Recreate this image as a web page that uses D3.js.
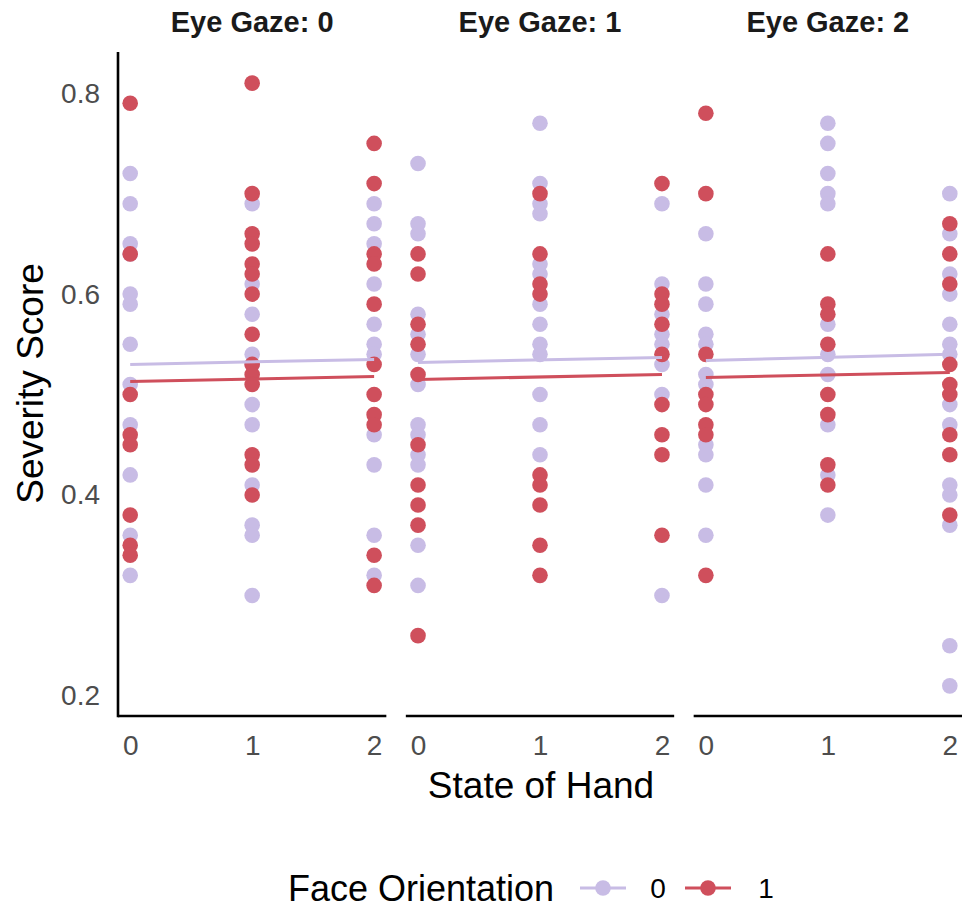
<!DOCTYPE html>
<html>
<head>
<meta charset="utf-8">
<script src="https://cdn.jsdelivr.net/npm/d3@7"></script>
<style>
  html, body { margin: 0; padding: 0; background: #ffffff; }
  svg { display: block; font-family: "Liberation Sans", Arial, sans-serif; }
</style>
</head>
<body>
<svg id="chart" width="963" height="909"></svg>
<script>
// Facet, x and colour levels
const gazeLevels = [0, 1, 2];
const handLevels = [0, 1, 2];
const faceLevels = ["0", "1"];
const yTicks = [0.2, 0.4, 0.6, 0.8];

// Severity scores per eye gaze level: [hand 0, hand 1, hand 2] for each face orientation
const gaze0Face0 = [
  [0.72, 0.69, 0.65, 0.64, 0.60, 0.59, 0.55, 0.51, 0.47, 0.42, 0.36, 0.32],
  [0.69, 0.61, 0.58, 0.54, 0.53, 0.49, 0.47, 0.41, 0.37, 0.36, 0.30],
  [0.69, 0.67, 0.65, 0.61, 0.57, 0.55, 0.54, 0.46, 0.43, 0.36, 0.32]
];
const gaze0Face1 = [
  [0.79, 0.64, 0.50, 0.46, 0.45, 0.38, 0.35, 0.34],
  [0.81, 0.70, 0.66, 0.65, 0.63, 0.62, 0.60, 0.56, 0.53, 0.52, 0.51, 0.44, 0.43, 0.40],
  [0.75, 0.71, 0.64, 0.63, 0.59, 0.53, 0.50, 0.48, 0.47, 0.34, 0.31]
];
const gaze1Face0 = [
  [0.73, 0.67, 0.66, 0.58, 0.56, 0.54, 0.51, 0.47, 0.46, 0.44, 0.43, 0.35, 0.31],
  [0.77, 0.71, 0.69, 0.68, 0.63, 0.62, 0.59, 0.57, 0.55, 0.54, 0.50, 0.47, 0.44],
  [0.69, 0.61, 0.58, 0.56, 0.55, 0.53, 0.50, 0.30]
];
const gaze1Face1 = [
  [0.64, 0.62, 0.57, 0.55, 0.52, 0.45, 0.41, 0.39, 0.37, 0.26],
  [0.70, 0.64, 0.61, 0.60, 0.42, 0.41, 0.39, 0.35, 0.32],
  [0.71, 0.60, 0.59, 0.57, 0.54, 0.49, 0.46, 0.44, 0.36]
];
const gaze2Face0 = [
  [0.66, 0.61, 0.59, 0.56, 0.55, 0.52, 0.51, 0.45, 0.44, 0.41, 0.36],
  [0.77, 0.75, 0.72, 0.70, 0.69, 0.57, 0.54, 0.52, 0.47, 0.42, 0.38],
  [0.70, 0.66, 0.62, 0.60, 0.57, 0.55, 0.54, 0.49, 0.47, 0.41, 0.40, 0.37, 0.25, 0.21]
];
const gaze2Face1 = [
  [0.78, 0.70, 0.54, 0.50, 0.49, 0.47, 0.46, 0.32],
  [0.64, 0.59, 0.58, 0.55, 0.50, 0.48, 0.43, 0.41],
  [0.67, 0.64, 0.61, 0.53, 0.51, 0.50, 0.46, 0.44, 0.38]
];

// Fitted linear trend per eye gaze level: [value at hand 0, value at hand 2]
const fitFace0 = [[0.530, 0.535], [0.532, 0.537], [0.534, 0.540]];
const fitFace1 = [[0.513, 0.518], [0.515, 0.520], [0.517, 0.522]];

const faceColors = ["#c8bce5", "#cf4f5c"];

const scoresByGaze = [
  [gaze0Face0, gaze0Face1],
  [gaze1Face0, gaze1Face1],
  [gaze2Face0, gaze2Face1]
];
const fitsByFace = [fitFace0, fitFace1];

const svg = d3.select("#chart");
const fontFamily = "'Liberation Sans', Arial, sans-serif";

const plotLeft = 118, plotRight = 962, panelGap = 19.5;
const plotTop = 53, plotBottom = 716;
const panelW = (plotRight - plotLeft - 2 * panelGap) / 3;

const y = d3.scaleLinear().domain([0.18, 0.84]).range([plotBottom, plotTop]);
const color = d3.scaleOrdinal().domain(faceLevels).range(faceColors);

gazeLevels.forEach((g, gi) => {
  const x0 = plotLeft + gi * (panelW + panelGap);
  const x = d3.scaleLinear().domain([-0.1, 2.1]).range([x0, x0 + panelW]);
  const panel = svg.append("g");

  // points
  faceLevels.forEach((f, fi) => {
    const rows = [];
    scoresByGaze[gi][fi].forEach((vals, hi) => {
      vals.forEach(v => rows.push({ hand: handLevels[hi], score: v }));
    });
    panel.append("g").selectAll("circle")
      .data(rows)
      .join("circle")
      .attr("cx", d => x(d.hand))
      .attr("cy", d => y(d.score))
      .attr("r", 7.8)
      .attr("fill", color(f));
  });

  // trend lines
  faceLevels.forEach((f, fi) => {
    const fit = fitsByFace[fi][gi];
    panel.append("line")
      .attr("x1", x(0)).attr("x2", x(2))
      .attr("y1", y(fit[0])).attr("y2", y(fit[1]))
      .attr("stroke", color(f))
      .attr("stroke-width", 3);
  });

  // x axis
  const xAxis = d3.axisBottom(x).tickValues(handLevels).tickFormat(d3.format("d")).tickSize(0).tickPadding(19);
  const ax = panel.append("g").attr("transform", `translate(0,${plotBottom})`).call(xAxis);
  ax.select(".domain").attr("stroke", "#000").attr("stroke-width", 2.6)
    .attr("d", `M${x0},0H${x0 + panelW}`);
  ax.selectAll("text").attr("font-size", 28).attr("fill", "#4d4d4d")
    .attr("font-family", fontFamily);

  // facet title
  svg.append("text")
    .attr("x", x0 + panelW / 2)
    .attr("y", 32)
    .attr("text-anchor", "middle")
    .attr("font-size", 29)
    .attr("font-weight", "bold")
    .attr("font-family", fontFamily)
    .attr("fill", "#1a1a1a")
    .text(`Eye Gaze: ${g}`);
});

// y axis (left panel only)
const yAxis = d3.axisLeft(y).tickValues(yTicks).tickFormat(d3.format(".1f")).tickSize(0).tickPadding(18);
const ay = svg.append("g").attr("transform", `translate(${plotLeft},0)`).call(yAxis);
ay.select(".domain").attr("stroke", "#000").attr("stroke-width", 2.6)
  .attr("d", `M0,${plotTop - 1}V${plotBottom + 1.3}`);
ay.selectAll("text").attr("font-size", 28).attr("fill", "#4d4d4d")
  .attr("font-family", fontFamily);

// axis titles
svg.append("text")
  .attr("x", 541).attr("y", 798)
  .attr("text-anchor", "middle")
  .attr("font-size", 37)
  .attr("font-family", fontFamily)
  .attr("fill", "#000")
  .text("State of Hand");

svg.append("text")
  .attr("transform", `translate(43,${(plotTop + plotBottom) / 2 - 1}) rotate(-90)`)
  .attr("text-anchor", "middle")
  .attr("font-size", 37)
  .attr("font-family", fontFamily)
  .attr("fill", "#000")
  .text("Severity Score");

// legend
const legend = svg.append("g");
legend.append("text")
  .attr("x", 288).attr("y", 901)
  .attr("font-size", 36)
  .attr("font-family", fontFamily)
  .attr("fill", "#000")
  .text("Face Orientation");

const keyX = [603, 708];
const labelX = [658, 766];
faceLevels.forEach((f, i) => {
  legend.append("line")
    .attr("x1", keyX[i] - 23).attr("x2", keyX[i] + 23)
    .attr("y1", 888).attr("y2", 888)
    .attr("stroke", color(f)).attr("stroke-width", 3);
  legend.append("circle")
    .attr("cx", keyX[i]).attr("cy", 888).attr("r", 7.8)
    .attr("fill", color(f));
  legend.append("text")
    .attr("x", labelX[i]).attr("y", 898)
    .attr("text-anchor", "middle")
    .attr("font-size", 28)
    .attr("font-family", fontFamily)
    .attr("fill", "#000")
    .text(f);
});
</script>
</body>
</html>
